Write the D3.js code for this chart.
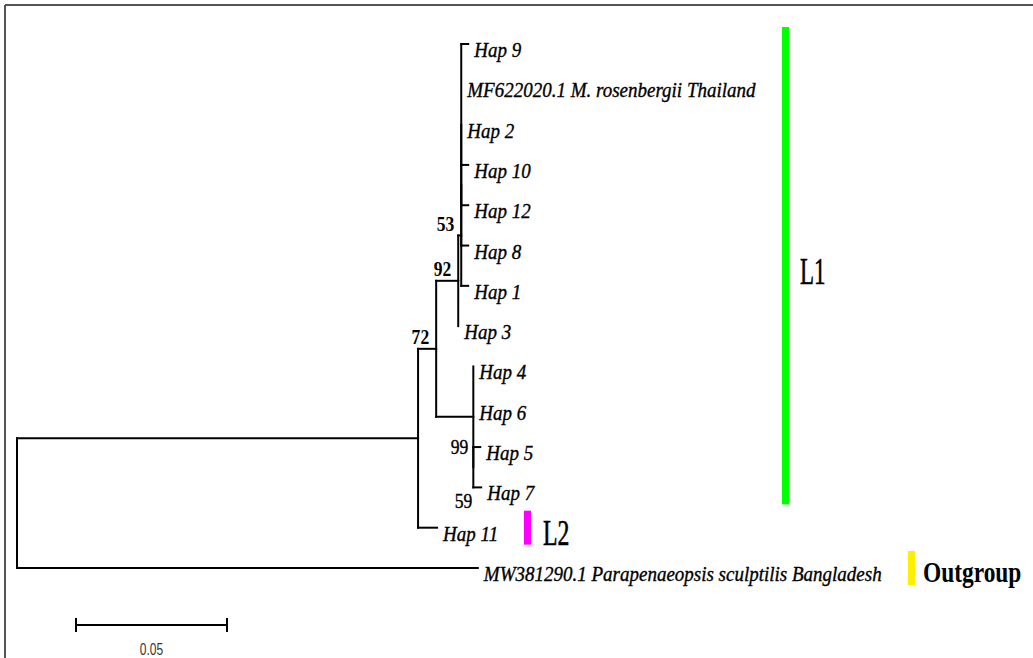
<!DOCTYPE html>
<html><head><meta charset="utf-8">
<script src="https://cdn.jsdelivr.net/npm/d3@7"></script>
<style>html,body{margin:0;padding:0;background:#fff;} svg{display:block}</style>
</head><body>
<svg id="chart" width="1033" height="658"></svg>
<script>
// ---------------- DATA ----------------
// Tree topology with branch lengths (substitutions/site) and bootstrap supports on internal nodes
const treeNewick = "(((((((Hap 9:0.0023,MF622020.1 M. rosenbergii Thailand:0,Hap 2:0,Hap 10:0.0023,Hap 12:0.0023):0,Hap 8:0.0023):0,Hap 1:0.0023)53:0.001,Hap 3:0)92:0.0073,(Hap 4:0,Hap 6:0,(Hap 5:0.0023,Hap 7:0.0026)99:0):0.0123)72:0.006,Hap 11:0.0063):0.1328,MW381290.1 Parapenaeopsis sculptilis Bangladesh:0.1526);";
// support value printed next to a terminal branch
const leafSupports = [{ taxon: "Hap 7", value: 59 }];
// lineage groups: first and last taxon of each group
const clades = [
  { name: "L1", from: "Hap 9", to: "Hap 7" },
  { name: "L2", from: "Hap 11", to: "Hap 11" },
  { name: "Outgroup", from: "MW381290.1 Parapenaeopsis sculptilis Bangladesh", to: "MW381290.1 Parapenaeopsis sculptilis Bangladesh" }
];
const scaleBarValue = 0.05;
const scaleBarLabel = "0.05";

// ---------------- STYLE / LAYOUT ----------------
const cladeStyle = {
  "L1": { color: "#00ff00", barX: 782, labelX: 800, labelDy: 18, font: 37, sx: 0.62, weight: "normal" },
  "L2": { color: "#ff00ff", barX: 524, labelX: 543, labelDy: 17, font: 35, sx: 0.68, weight: "normal" },
  "Outgroup": { color: "#ffee00", barX: 908, labelX: 923, labelDy: 14, font: 30, sx: 0.78, weight: "bold" }
};
const supportOffset = { 99: { dx: -5, dy: -13 } };

// ---------------- PARSER ----------------
function parseNewick(s) {
  let i = 0;
  function node() {
    const n = {};
    if (s[i] === "(") {
      i++;
      n.children = [];
      while (true) {
        n.children.push(node());
        if (s[i] === ",") { i++; } else { i++; break; }
      }
    }
    let name = "";
    while (i < s.length && !",():;".includes(s[i])) name += s[i++];
    name = name.trim();
    let len = 0;
    if (s[i] === ":") {
      i++;
      let num = "";
      while (i < s.length && !",();".includes(s[i])) num += s[i++];
      len = +num;
    }
    if (n.children) n.support = name ? +name : null; else n.name = name;
    n.length = len;
    return n;
  }
  return node();
}

// ---------------- DRAW ----------------
const svg = d3.select("#chart");
const root = d3.hierarchy(parseNewick(treeNewick));

const x = d3.scaleLinear().domain([0, scaleBarValue]).range([17, 168]);
const leaves = root.leaves();
const yLeaf = d3.scaleLinear().domain([0, leaves.length - 1]).range([44, 568]);

root.eachBefore(d => { d.dist = d.parent ? d.parent.dist + d.data.length : 0; d.px = x(d.dist); });
leaves.forEach((d, i) => d.py = yLeaf(i));
root.eachAfter(d => { if (d.children) d.py = (d.children[0].py + d.children[d.children.length - 1].py) / 2; });

// border
svg.append("line").attr("x1", 5).attr("x2", 1033).attr("y1", 5).attr("y2", 5).attr("stroke", "#555").attr("stroke-width", 2);
svg.append("line").attr("x1", 5).attr("x2", 5).attr("y1", 5).attr("y2", 658).attr("stroke", "#555").attr("stroke-width", 2);

const g = svg.append("g").attr("stroke", "#000").attr("stroke-width", 2).attr("fill", "none").attr("stroke-linecap", "square");
// vertical connectors
root.descendants().filter(d => d.children).forEach(d => {
  const c0 = d.children[0], c1 = d.children[d.children.length - 1];
  g.append("line").attr("x1", d.px).attr("x2", d.px).attr("y1", c0.py).attr("y2", c1.py);
});
// horizontal branches
root.descendants().filter(d => d.parent && d.data.length > 0).forEach(d => {
  g.append("line").attr("x1", d.parent.px).attr("x2", d.px).attr("y1", d.py).attr("y2", d.py);
});

// leaf labels
const labelG = svg.append("g").attr("font-family", "'Liberation Serif','Times New Roman',serif")
  .attr("font-style", "italic").attr("font-size", 20).attr("fill", "#000")
  .attr("stroke", "#000").attr("stroke-width", 0.35);
leaves.forEach(d => {
  labelG.append("text").attr("transform", `translate(${d.px + 6},${d.py + 13}) scale(0.95,1)`).text(d.data.name);
});

// supports
const supG = svg.append("g").attr("font-family", "'Liberation Serif','Times New Roman',serif").attr("font-size", 22).attr("fill", "#000").attr("text-anchor", "end");
root.descendants().filter(d => d.children && d.data.support != null).forEach(d => {
  const o = supportOffset[d.data.support] || { dx: -7, dy: -4.5 };
  supG.append("text").attr("transform", `translate(${d.px + o.dx},${d.py + o.dy}) scale(0.8,1)`)
    .attr("font-weight", d.data.support === 99 ? "normal" : "bold")
    .attr("stroke", "#000").attr("stroke-width", d.data.support === 99 ? 0.4 : 0)
    .text(d.data.support);
});
leafSupports.forEach(s => {
  const d = leaves.find(l => l.data.name === s.taxon);
  supG.append("text").attr("transform", `translate(${d.parent.px - 1},${d.py + 21}) scale(0.8,1)`)
    .attr("stroke", "#000").attr("stroke-width", 0.4).text(s.value);
});

// clade bars and labels
clades.forEach(c => {
  const st = cladeStyle[c.name];
  const a = leaves.find(l => l.data.name === c.from), b = leaves.find(l => l.data.name === c.to);
  const y0 = a.py - 17, y1 = b.py + 17;
  svg.append("rect").attr("x", st.barX).attr("y", y0).attr("width", 7).attr("height", y1 - y0).attr("fill", st.color);
  svg.append("text").attr("transform", `translate(${st.labelX},${(y0 + y1) / 2 + st.labelDy}) scale(${st.sx},1)`)
    .attr("font-family", "'Liberation Serif','Times New Roman',serif").attr("font-size", st.font)
    .attr("font-weight", st.weight).attr("fill", "#000")
    .attr("stroke", "#000").attr("stroke-width", st.weight === "bold" ? 0 : 0.6).text(c.name);
});

// scale bar
const sb = svg.append("g").attr("stroke", "#000").attr("stroke-width", 2);
const sbX0 = 76, sbY = 625, sbLen = x(scaleBarValue) - x(0);
sb.append("line").attr("x1", sbX0).attr("x2", sbX0 + sbLen).attr("y1", sbY).attr("y2", sbY);
sb.append("line").attr("x1", sbX0).attr("x2", sbX0).attr("y1", sbY - 7).attr("y2", sbY + 7);
sb.append("line").attr("x1", sbX0 + sbLen).attr("x2", sbX0 + sbLen).attr("y1", sbY - 7).attr("y2", sbY + 7);
svg.append("text").attr("transform", `translate(${sbX0 + sbLen / 2},655) scale(0.75,1)`)
  .attr("text-anchor", "middle").attr("font-family", "'Liberation Sans',Arial,sans-serif").attr("font-size", 16)
  .attr("fill", "#333").text(scaleBarLabel);
</script>
</body></html>
